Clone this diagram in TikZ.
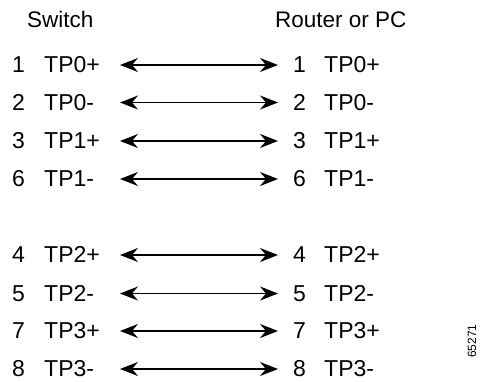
\documentclass[tikz,border=0pt]{standalone}
\usepackage{fontspec}
\setmainfont{Liberation Sans}
\usetikzlibrary{arrows.meta}
\begin{document}
\begin{tikzpicture}[x=1pt,y=-1pt,
  lbl/.style={anchor=base west,inner sep=0pt,font=\fontsize{23}{23}\selectfont},
  hdr/.style={anchor=base west,inner sep=0pt,font=\fontsize{22.5}{22.5}\selectfont},
  tip/.style={Stealth[length=18pt,width=14pt,inset=6pt]},
  conn/.style={line width=1.3pt,{Stealth[length=18pt,width=14pt,inset=6pt]}-{Stealth[length=18pt,width=14pt,inset=6pt]}}]
\useasboundingbox (0,0) rectangle (482,381);
\node[hdr] (sw) at (27,27) {Switch};
\node[hdr] (rt) at (275,27) {Router or PC};
\foreach \n/\s/\y in {1/TP0+/72.5,2/TP0-/110,3/TP1+/148.5,6/TP1-/186.5,4/TP2+/262.5,5/TP2-/301,7/TP3+/338.5,8/TP3-/376.5}{
  \node[lbl] (ln\n) at (12,\y) {\n};
  \node[lbl] (lt\n) at (44,\y) {\s};
  \node[lbl] (rn\n) at (293,\y) {\n};
  \node[lbl] (rt\n) at (324,\y) {\s};
  \coordinate (al\n) at (120,\y-7.5);
  \coordinate (ar\n) at (278,\y-7.5);
  \draw[conn] (al\n) -- (ar\n);
}
\node[rotate=90,inner sep=0pt,font=\fontsize{12}{12}\selectfont] (id) at (472,341) {65271};
\end{tikzpicture}
\end{document}
